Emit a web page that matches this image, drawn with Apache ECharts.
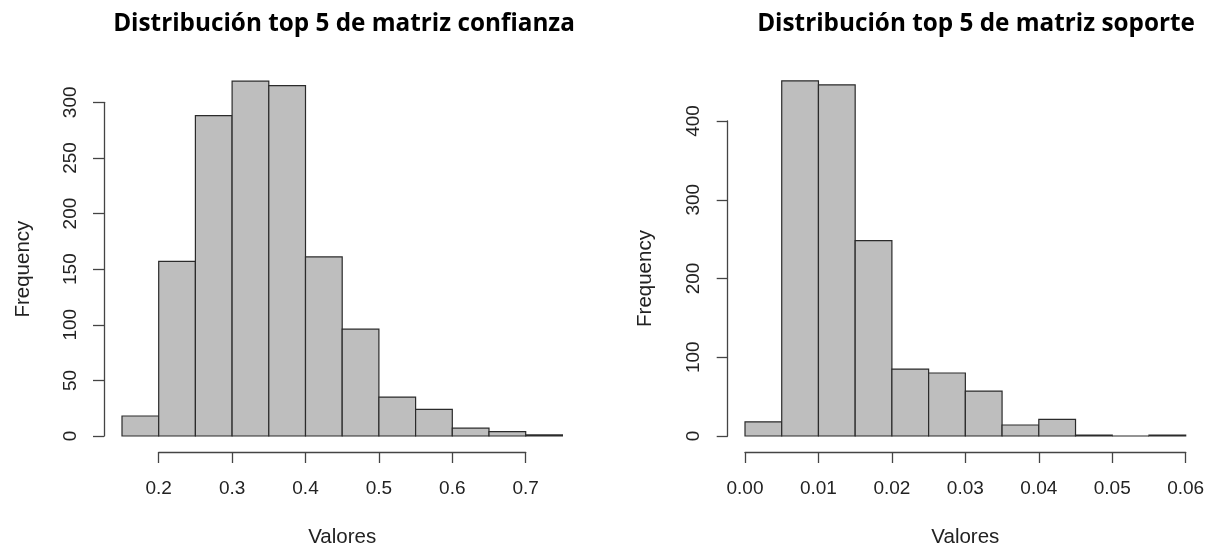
<!DOCTYPE html>
<html>
<head>
<meta charset="utf-8">
<script src="https://cdn.jsdelivr.net/npm/echarts@6/dist/echarts.min.js"></script>
<style>
  html, body { margin: 0; padding: 0; background: #ffffff; }
  #chart { width: 1211px; height: 548px; }
</style>
</head>
<body>
<div id="chart"></div>
<script>
// Histogram bins (break points) and counts for each panel
const confBreaks = [0.15, 0.20, 0.25, 0.30, 0.35, 0.40, 0.45, 0.50, 0.55, 0.60, 0.65, 0.70, 0.75];
const confCounts = [18, 157, 288, 319, 315, 161, 96, 35, 24, 7, 4, 1];
const confXTicks = [0.2, 0.3, 0.4, 0.5, 0.6, 0.7];
const confYTicks = [0, 50, 100, 150, 200, 250, 300];

const supBreaks = [0.000, 0.005, 0.010, 0.015, 0.020, 0.025, 0.030, 0.035, 0.040, 0.045, 0.050, 0.055, 0.060];
const supCounts = [18, 451, 446, 248, 85, 80, 57, 14, 21, 1, 0, 1];
const supXTicks = [0.00, 0.01, 0.02, 0.03, 0.04, 0.05, 0.06];
const supYTicks = [0, 100, 200, 300, 400];

const titles = ['Distribución top 5 de matriz confianza', 'Distribución top 5 de matriz soporte'];
const xName = 'Valores';
const yName = 'Frequency';

const FONT = '"Liberation Sans", Arial, sans-serif';
const TXT = '#222222';
const AX = '#444444';

function binData(breaks, counts) {
  return counts.map((c, i) => [breaks[i], breaks[i + 1], c]);
}

function renderBin(params, api) {
  const p0 = api.coord([api.value(0), api.value(2)]);
  const p1 = api.coord([api.value(1), 0]);
  return {
    type: 'rect',
    shape: { x: p0[0], y: p0[1], width: p1[0] - p0[0], height: p1[1] - p0[1] },
    style: { fill: '#bebebe', stroke: '#2b2b2b', lineWidth: 1.2 }
  };
}

function xAxisFor(idx, ticks, digits) {
  return {
    type: 'value', gridIndex: idx,
    min: ticks[0], max: ticks[ticks.length - 1],
    interval: ticks[1] - ticks[0],
    offset: 16,
    name: xName, nameLocation: 'middle', nameGap: 75,
    nameTextStyle: { fontFamily: FONT, fontSize: 20.5, color: TXT },
    axisLine: { show: true, onZero: false, lineStyle: { color: AX, width: 1.3 } },
    axisTick: { show: true, length: 11, lineStyle: { color: AX, width: 1.3 } },
    axisLabel: {
      fontFamily: FONT, fontSize: 19, color: TXT, margin: 27,
      formatter: v => v.toFixed(digits)
    },
    splitLine: { show: false }
  };
}

function yAxisFor(idx, ticks, offset, gap) {
  return {
    type: 'value', gridIndex: idx,
    min: ticks[0], max: ticks[ticks.length - 1],
    interval: ticks[1] - ticks[0],
    offset: offset,
    name: yName, nameLocation: 'middle', nameGap: gap, nameRotate: 90,
    nameTextStyle: { fontFamily: FONT, fontSize: 20.5, color: TXT },
    axisLine: { show: true, onZero: false, lineStyle: { color: AX, width: 1.3 } },
    axisTick: { show: true, length: 11, lineStyle: { color: AX, width: 1.3 } },
    axisLabel: { fontFamily: FONT, fontSize: 19, color: TXT, margin: 24, rotate: 90 },
    splitLine: { show: false }
  };
}

const chart = echarts.init(document.getElementById('chart'), null, { renderer: 'canvas' });

const titleStyle = { fontFamily: '"Open Sans", "Noto Sans", sans-serif', fontWeight: 'bold', fontSize: 24.3, color: '#000' };

chart.setOption({
  animation: false,
  backgroundColor: '#ffffff',
  title: [
    { text: titles[0], left: 339, top: 7, textAlign: 'center', textStyle: titleStyle },
    { text: titles[1], left: 971, top: 7, textAlign: 'center', textStyle: titleStyle }
  ],
  grid: [
    { left: 158.7, top: 102.3, width: 367, height: 333.7, outerBoundsMode: 'none', containLabel: false },
    { left: 745, top: 121, width: 440.7, height: 315, outerBoundsMode: 'none', containLabel: false }
  ],
  xAxis: [
    xAxisFor(0, confXTicks, 1),
    xAxisFor(1, supXTicks, 2)
  ],
  yAxis: [
    yAxisFor(0, confYTicks, 54.7, 70),
    yAxisFor(1, supYTicks, 17.3, 72)
  ],
  series: [
    {
      type: 'custom', xAxisIndex: 0, yAxisIndex: 0, clip: false,
      renderItem: renderBin, encode: { x: [0, 1], y: 2 },
      data: binData(confBreaks, confCounts)
    },
    {
      type: 'custom', xAxisIndex: 1, yAxisIndex: 1, clip: false,
      renderItem: renderBin, encode: { x: [0, 1], y: 2 },
      data: binData(supBreaks, supCounts)
    }
  ]
});
</script>
</body>
</html>
